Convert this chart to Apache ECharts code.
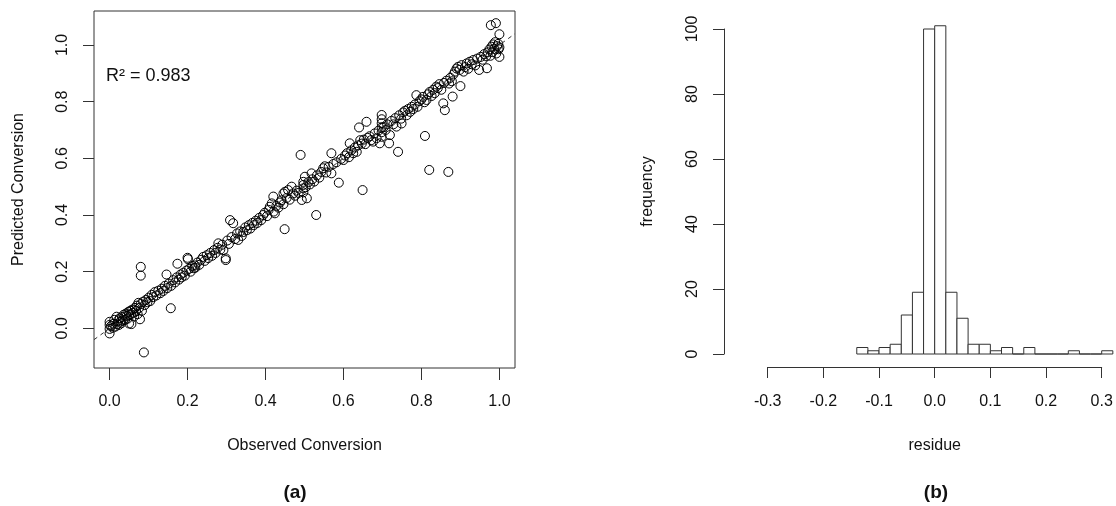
<!DOCTYPE html>
<html>
<head>
<meta charset="utf-8">
<title>Observed vs predicted conversion and residue histogram</title>
<script src="https://cdn.jsdelivr.net/npm/echarts@6/dist/echarts.min.js"></script>
<style>
  html, body { margin: 0; padding: 0; background: #ffffff; }
  #chart { width: 1116px; height: 506px; }
</style>
</head>
<body>
<div id="chart"></div>
<script>
// ---- panel (a): observed vs predicted conversion ----
const observed = [
  0.000,0.000,0.000,0.000,0.004,0.008,0.010,0.012,0.015,0.018,
  0.020,0.022,0.024,0.026,0.028,0.030,0.032,0.034,0.036,0.040,
  0.042,0.044,0.046,0.048,0.050,0.050,0.053,0.055,0.056,0.058,
  0.060,0.063,0.065,0.068,0.070,0.072,0.074,0.076,0.078,0.080,
  0.080,0.080,0.083,0.086,0.088,0.090,0.093,0.097,
  0.100,0.104,0.108,0.112,0.116,0.120,0.125,0.130,0.134,0.138,
  0.142,0.146,0.148,0.152,0.157,0.158,0.163,0.168,0.172,0.174,
  0.178,0.182,0.185,0.189,0.193,0.197,
  0.200,0.201,0.204,0.208,0.212,0.216,0.219,0.220,0.225,0.230,
  0.235,0.240,0.244,0.249,0.253,0.258,0.263,0.268,0.272,0.277,
  0.279,0.284,0.289,0.292,0.298,0.298,
  0.302,0.306,0.309,0.313,0.317,0.322,0.327,0.330,0.335,0.339,
  0.343,0.348,0.352,0.357,0.361,0.366,0.370,0.375,0.379,0.384,
  0.389,0.394,
  0.398,0.404,0.408,0.411,0.416,0.420,0.421,0.424,0.428,0.433,
  0.437,0.441,0.446,0.446,0.449,0.450,0.454,0.458,0.462,0.467,
  0.471,0.476,0.480,0.485,0.490,0.493,0.497,0.497,0.497,0.497,
  0.501,0.503,0.506,0.510,0.514,0.518,0.520,0.525,0.530,0.532,
  0.538,0.543,0.548,0.552,0.556,0.562,0.569,0.569,0.574,0.582,
  0.588,0.594,
  0.600,0.604,0.609,0.614,0.616,0.620,0.625,0.629,0.634,0.638,
  0.640,0.643,0.647,0.649,0.652,0.656,0.659,0.662,0.667,0.671,
  0.676,0.680,0.685,0.690,0.693,0.698,0.698,0.698,0.698,0.698,
  0.698,
  0.703,0.708,0.712,0.717,0.719,0.723,0.728,0.733,0.736,0.740,
  0.743,0.748,0.749,0.753,0.758,0.762,0.766,0.771,0.775,0.779,
  0.783,0.787,0.790,0.795,
  0.800,0.804,0.808,0.809,0.813,0.817,0.820,0.821,0.826,0.830,
  0.834,0.838,0.842,0.846,0.851,0.856,0.858,0.860,0.864,0.869,
  0.871,0.874,0.878,0.880,0.882,0.886,0.890,0.894,0.898,0.900,
  0.903,0.908,0.912,0.916,0.920,0.924,0.929,0.933,0.938,0.943,
  0.948,0.952,0.957,0.961,0.966,0.968,0.970,0.974,0.977,0.978,
  0.980,0.982,0.984,0.987,0.989,0.991,0.992,0.994,0.997,0.998,
  1.000,1.000,1.000
];
const predicted = [
  -0.018,-0.002,0.012,0.023,0.008,0.002,0.016,0.030,0.006,0.041,
  0.015,0.028,0.012,0.036,0.024,0.018,0.040,0.028,0.048,0.030,
  0.052,0.044,0.034,0.058,0.017,0.048,0.062,0.050,0.015,0.066,
  0.055,0.042,0.072,0.062,0.080,0.050,0.090,0.072,0.032,0.217,
  0.186,0.086,0.062,0.094,-0.085,0.082,0.100,0.092,
  0.108,0.096,0.118,0.110,0.128,0.116,0.133,0.124,0.140,0.132,
  0.150,0.190,0.142,0.158,0.071,0.150,0.170,0.162,0.180,0.228,
  0.172,0.190,0.180,0.196,0.186,0.204,
  0.249,0.244,0.210,0.200,0.220,0.212,0.222,0.214,0.232,0.224,
  0.242,0.252,0.238,0.258,0.248,0.266,0.256,0.276,0.266,0.284,
  0.300,0.278,0.295,0.276,0.247,0.241,
  0.310,0.298,0.382,0.322,0.371,0.315,0.335,0.312,0.342,0.326,
  0.340,0.356,0.346,0.364,0.352,0.372,0.364,0.380,0.372,0.390,
  0.382,0.400,
  0.408,0.396,0.418,0.429,0.441,0.465,0.412,0.406,0.432,0.426,
  0.444,0.452,0.476,0.438,0.350,0.482,0.460,0.488,0.454,0.500,
  0.476,0.468,0.486,0.478,0.612,0.453,0.517,0.506,0.494,0.480,
  0.535,0.498,0.459,0.516,0.508,0.547,0.526,0.518,0.400,0.540,
  0.532,0.552,0.565,0.572,0.550,0.570,0.547,0.618,0.580,0.586,
  0.514,0.598,
  0.594,0.610,0.618,0.604,0.653,0.628,0.618,0.638,0.623,0.646,
  0.709,0.664,0.652,0.488,0.666,0.650,0.729,0.672,0.678,0.664,
  0.659,0.688,0.671,0.698,0.653,0.753,0.738,0.724,0.710,0.692,
  0.676,
  0.710,0.700,0.720,0.653,0.682,0.732,0.720,0.742,0.712,0.623,
  0.752,0.740,0.723,0.762,0.768,0.752,0.774,0.764,0.782,0.774,
  0.790,0.823,0.782,0.802,
  0.808,0.817,0.798,0.679,0.806,0.826,0.559,0.834,0.820,0.842,
  0.830,0.853,0.848,0.862,0.842,0.794,0.866,0.770,0.874,0.552,
  0.864,0.884,0.872,0.818,0.896,0.906,0.917,0.923,0.912,0.855,
  0.929,0.906,0.922,0.935,0.916,0.941,0.932,0.947,0.928,0.952,
  0.912,0.958,0.948,0.968,0.960,0.918,0.974,0.984,0.962,1.070,
  0.994,0.975,1.002,0.986,1.010,1.077,0.970,0.996,1.004,0.985,
  1.038,0.958,0.992
];
const r2Label = 'R\u00b2 = 0.983';
const unitTicks = [0, 0.2, 0.4, 0.6, 0.8, 1.0];
// reference line y = x, spanning the plotting box
const refLineX = [-0.04, 1.04];
const refLineY = [-0.04, 1.04];

// ---- panel (b): histogram of residues (bins of width 0.02) ----
const binStarts = [-0.14,-0.12,-0.10,-0.08,-0.06,-0.04,-0.02,0.00,0.02,0.04,0.06,0.08,
                   0.10,0.12,0.14,0.16,0.18,0.20,0.22,0.24,0.26,0.28,0.30];
const binCounts = [2,1,2,3,12,19,100,101,19,11,3,3,1,2,0,2,0,0,0,1,0,0,1];
const binWidth = 0.02;

const FONT = '"Liberation Sans", Arial, Helvetica, sans-serif';
const INK = '#333333';
const TXT = '#111111';

const scatterData = observed.map((o, i) => [o, predicted[i]]);
const lineData = refLineX.map((x, i) => [x, refLineY[i]]);
const histData = binStarts.map((s, i) => [s, s + binWidth, binCounts[i]]);

const fmt1 = v => (Math.abs(v) < 1e-9 ? 0 : v).toFixed(1);

const chart = echarts.init(document.getElementById('chart'), null, { renderer: 'canvas' });

chart.setOption({
  animation: false,
  backgroundColor: '#ffffff',
  textStyle: { fontFamily: FONT },
  grid: [
    { left: 94, top: 11, width: 421, height: 357, show: true,
      borderColor: INK, borderWidth: 1, backgroundColor: 'transparent' },
    { left: 767.7, top: 29, width: 334, height: 325, show: false }
  ],
  xAxis: [
    {
      gridIndex: 0, type: 'value', min: -0.04, max: 1.04,
      name: 'Observed Conversion', nameLocation: 'middle', nameGap: 70,
      nameTextStyle: { fontSize: 16, color: TXT, fontFamily: FONT },
      axisLine: { show: false, onZero: false },
      splitLine: { show: false },
      axisTick: { show: true, inside: false, length: 12, customValues: unitTicks,
                  lineStyle: { color: INK, width: 1 } },
      axisLabel: { customValues: unitTicks, formatter: fmt1, margin: 26,
                   fontSize: 16, color: TXT, fontFamily: FONT }
    },
    {
      gridIndex: 1, type: 'value', min: -0.3, max: 0.3, interval: 0.1,
      offset: 13,
      name: 'residue', nameLocation: 'middle', nameGap: 71,
      nameTextStyle: { fontSize: 16, color: TXT, fontFamily: FONT },
      axisLine: { show: true, onZero: false, lineStyle: { color: INK, width: 1 } },
      splitLine: { show: false },
      axisTick: { show: true, inside: false, length: 11, lineStyle: { color: INK, width: 1 } },
      axisLabel: { formatter: fmt1, margin: 27, fontSize: 16, color: TXT, fontFamily: FONT,
                   showMinLabel: true, showMaxLabel: true }
    }
  ],
  yAxis: [
    {
      gridIndex: 0, type: 'value', min: -0.14, max: 1.12,
      name: 'Predicted Conversion', nameLocation: 'middle', nameGap: 67, nameRotate: 90,
      nameTextStyle: { fontSize: 16, color: TXT, fontFamily: FONT },
      axisLine: { show: false, onZero: false },
      splitLine: { show: false },
      axisTick: { show: true, inside: false, length: 11, customValues: unitTicks,
                  lineStyle: { color: INK, width: 1 } },
      axisLabel: { customValues: unitTicks, formatter: fmt1, rotate: 90, margin: 23,
                   fontSize: 16, color: TXT, fontFamily: FONT }
    },
    {
      gridIndex: 1, type: 'value', min: 0, max: 100, interval: 20,
      offset: 43.7,
      name: 'frequency', nameLocation: 'middle', nameGap: 68, nameRotate: 90,
      nameTextStyle: { fontSize: 16, color: TXT, fontFamily: FONT },
      axisLine: { show: true, onZero: false, lineStyle: { color: INK, width: 1 } },
      splitLine: { show: false },
      axisTick: { show: true, inside: false, length: 11, lineStyle: { color: INK, width: 1 } },
      axisLabel: { rotate: 90, margin: 23, fontSize: 16, color: TXT, fontFamily: FONT,
                   showMinLabel: true, showMaxLabel: true }
    }
  ],
  series: [
    {
      type: 'line', xAxisIndex: 0, yAxisIndex: 0,
      data: lineData, symbol: 'none', silent: true,
      lineStyle: { color: INK, width: 1, type: [4, 4] }
    },
    {
      type: 'scatter', xAxisIndex: 0, yAxisIndex: 0,
      data: scatterData, symbol: 'circle', symbolSize: 9,
      itemStyle: { color: 'rgba(0,0,0,0)', borderColor: '#000000', borderWidth: 1, opacity: 1 },
      emphasis: { disabled: true }
    },
    {
      type: 'custom', xAxisIndex: 1, yAxisIndex: 1, clip: false,
      data: histData,
      renderItem: function (params, api) {
        const p0 = api.coord([api.value(0), 0]);
        const p1 = api.coord([api.value(1), api.value(2)]);
        return {
          type: 'rect',
          shape: { x: p0[0], y: p1[1], width: p1[0] - p0[0], height: p0[1] - p1[1] },
          style: { fill: '#ffffff', stroke: INK, lineWidth: 1 }
        };
      }
    }
  ],
  graphic: [
    { type: 'text', x: 106, y: 76,
      style: { text: r2Label, font: '18px ' + FONT, fill: TXT, align: 'left', verticalAlign: 'middle' } },
    { type: 'text', x: 295, y: 493,
      style: { text: '(a)', font: 'bold 19px ' + FONT, fill: TXT, align: 'center', verticalAlign: 'middle' } },
    { type: 'text', x: 936, y: 493,
      style: { text: '(b)', font: 'bold 19px ' + FONT, fill: TXT, align: 'center', verticalAlign: 'middle' } }
  ]
});
</script>
</body>
</html>
